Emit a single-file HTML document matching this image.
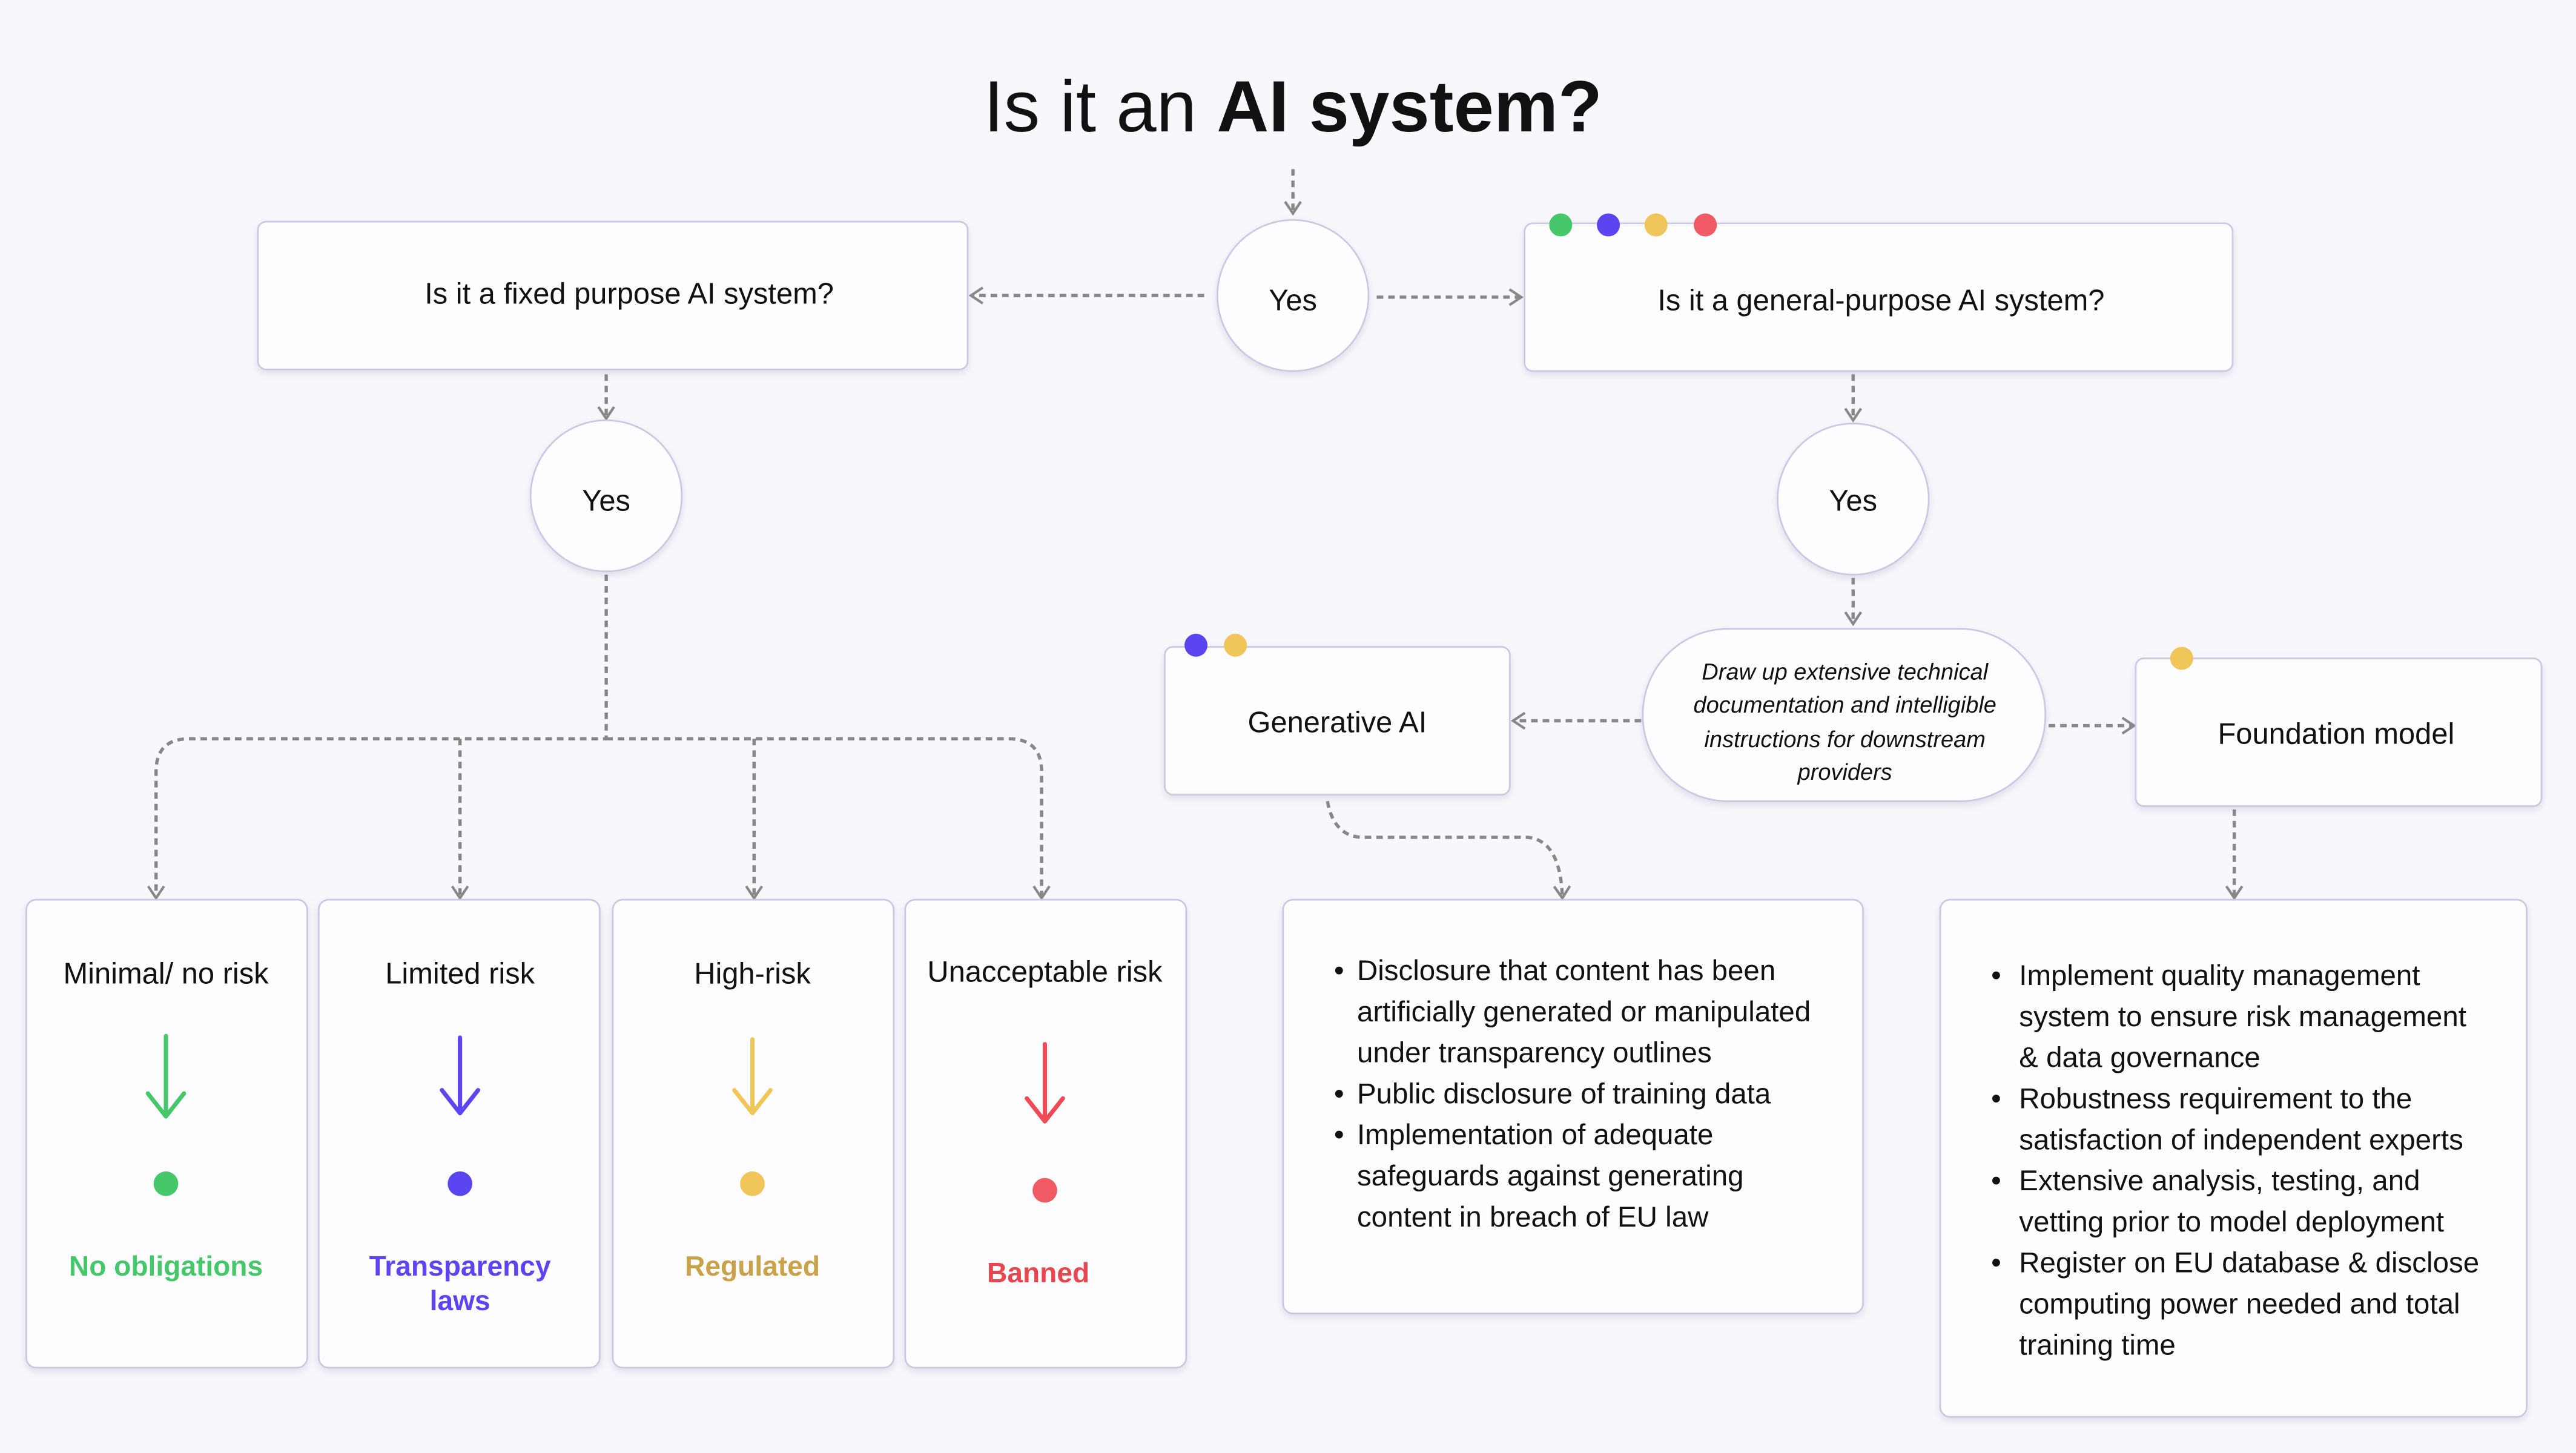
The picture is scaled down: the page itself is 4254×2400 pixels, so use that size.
<!DOCTYPE html>
<html><head><meta charset="utf-8"><style>
html,body{margin:0;padding:0;background:#f8f8fc;}
svg{display:block;}
text{font-family:"Liberation Sans",sans-serif;fill:#111;}
</style></head><body>
<svg width="4254" height="2400" viewBox="0 0 1568 885" preserveAspectRatio="none" xmlns="http://www.w3.org/2000/svg">
<defs>
<filter id="sh" x="-10%" y="-10%" width="120%" height="130%"><feDropShadow dx="0" dy="2" stdDeviation="2.5" flood-color="#8c8ab0" flood-opacity="0.25"/></filter>
<marker id="ah" viewBox="0 0 10 10" refX="8" refY="5" markerWidth="12" markerHeight="12" orient="auto" markerUnits="userSpaceOnUse"><path d="M2,1 L8,5 L2,9" fill="none" stroke="#888" stroke-width="1.3"/></marker>
</defs>
<rect width="1568" height="885" fill="#f8f8fc"/>
<text x="787" y="80" font-size="44" text-anchor="middle">Is it an <tspan font-weight="bold">AI system?</tspan></text>

<g fill="none" stroke="#888" stroke-width="2" stroke-dasharray="4 3" marker-end="url(#ah)">
<path d="M787,103 V130"/>
<path d="M733,180 H591"/>
<path d="M838,181 H926"/>
<path d="M369,228 V255"/>
<path d="M1128,228 V256"/>
<path d="M1128,352 V380"/>
<path d="M999,439 H921"/>
<path d="M1247,442 H1299"/>
<path d="M1360,493 V547"/>
<path d="M808,488 Q812,510 830,510 H930 Q950,512 951,547"/>
<path d="M369,350 V450 H115 Q95,450 95,470 V547" />
<path d="M369,450 H614 Q634,450 634,470 V547"/>
<path d="M280,450 V547"/>
<path d="M459,450 V547"/>
</g>

<g fill="#fdfdff" stroke="#cac8e2" stroke-width="1" filter="url(#sh)">
<rect x="157" y="135" width="432" height="90" rx="5"/>
<rect x="928" y="136" width="431" height="90" rx="5"/>
<circle cx="787" cy="180" r="46"/>
<circle cx="369" cy="302" r="46"/>
<circle cx="1128" cy="304" r="46"/>
<rect x="1000" y="383" width="245" height="105" rx="52"/>
<rect x="709" y="394" width="210" height="90" rx="5"/>
<rect x="1300" y="401" width="247" height="90" rx="5"/>
<rect x="16" y="548" width="171" height="285" rx="6"/>
<rect x="194" y="548" width="171" height="285" rx="6"/>
<rect x="373" y="548" width="171" height="285" rx="6"/>
<rect x="551" y="548" width="171" height="285" rx="6"/>
<rect x="781" y="548" width="353" height="252" rx="6"/>
<rect x="1181" y="548" width="357" height="315" rx="6"/>
</g>

<circle cx="950" cy="137" r="7" fill="#46c86a"/>
<circle cx="979" cy="137" r="7" fill="#5b45f0"/>
<circle cx="1008" cy="137" r="7" fill="#f0c65a"/>
<circle cx="1038" cy="137" r="7" fill="#ef5a64"/>
<circle cx="728" cy="393" r="7" fill="#5b45f0"/>
<circle cx="752" cy="393" r="7" fill="#f0c65a"/>
<circle cx="1328" cy="401" r="7" fill="#f0c65a"/>

<g font-size="18" text-anchor="middle">
<text x="383" y="185">Is it a fixed purpose AI system?</text>
<text x="1145" y="189">Is it a general-purpose AI system?</text>
<text x="787" y="189">Yes</text>
<text x="369" y="311">Yes</text>
<text x="1128" y="311">Yes</text>
<text x="814" y="446">Generative AI</text>
<text x="1422" y="453">Foundation model</text>
<text x="101" y="599">Minimal/ no risk</text>
<text x="280" y="599">Limited risk</text>
<text x="458" y="599">High-risk</text>
<text x="636" y="598">Unacceptable risk</text>
</g>
<g font-size="14" font-style="italic" text-anchor="middle">
<text x="1123" y="414">Draw up extensive technical</text>
<text x="1123" y="434">documentation and intelligible</text>
<text x="1123" y="455">instructions for downstream</text>
<text x="1123" y="475">providers</text>
</g>

<g fill="none" stroke-width="2.6" stroke-linecap="round" stroke-linejoin="round">
<path d="M101,631 V680 M90,666 L101,680 L112,666" stroke="#46c86a"/>
<path d="M280,632 V678 M269,664 L280,678 L291,664" stroke="#5b45f0"/>
<path d="M458,633 V678 M447,664 L458,678 L469,664" stroke="#f0c65a"/>
<path d="M636,636 V683 M625,669 L636,683 L647,669" stroke="#ef4a55"/>
</g>
<circle cx="101" cy="721" r="7.5" fill="#46c86a"/>
<circle cx="280" cy="721" r="7.5" fill="#5b45f0"/>
<circle cx="458" cy="721" r="7.5" fill="#f0c65a"/>
<circle cx="636" cy="725" r="7.5" fill="#ef5a64"/>
<g font-size="17" font-weight="bold" text-anchor="middle">
<text x="101" y="777" style="fill:#46c86a">No obligations</text>
<text x="280" y="777" style="fill:#5b45f0">Transparency</text>
<text x="280" y="798" style="fill:#5b45f0">laws</text>
<text x="458" y="777" style="fill:#c9a24a">Regulated</text>
<text x="632" y="781" style="fill:#e8464e">Banned</text>
</g>

<g font-size="17.5">
<text x="812" y="597">•</text><text x="826" y="597">Disclosure that content has been</text>
<text x="826" y="622">artificially generated or manipulated</text>
<text x="826" y="647">under transparency outlines</text>
<text x="812" y="672">•</text><text x="826" y="672">Public disclosure of training data</text>
<text x="812" y="697">•</text><text x="826" y="697">Implementation of adequate</text>
<text x="826" y="722">safeguards against generating</text>
<text x="826" y="747">content in breach of EU law</text>

<text x="1212" y="600">•</text><text x="1229" y="600">Implement quality management</text>
<text x="1229" y="625">system to ensure risk management</text>
<text x="1229" y="650">&amp; data governance</text>
<text x="1212" y="675">•</text><text x="1229" y="675">Robustness requirement to the</text>
<text x="1229" y="700">satisfaction of independent experts</text>
<text x="1212" y="725">•</text><text x="1229" y="725">Extensive analysis, testing, and</text>
<text x="1229" y="750">vetting prior to model deployment</text>
<text x="1212" y="775">•</text><text x="1229" y="775">Register on EU database &amp; disclose</text>
<text x="1229" y="800">computing power needed and total</text>
<text x="1229" y="825">training time</text>
</g>
</svg>
</body></html>
